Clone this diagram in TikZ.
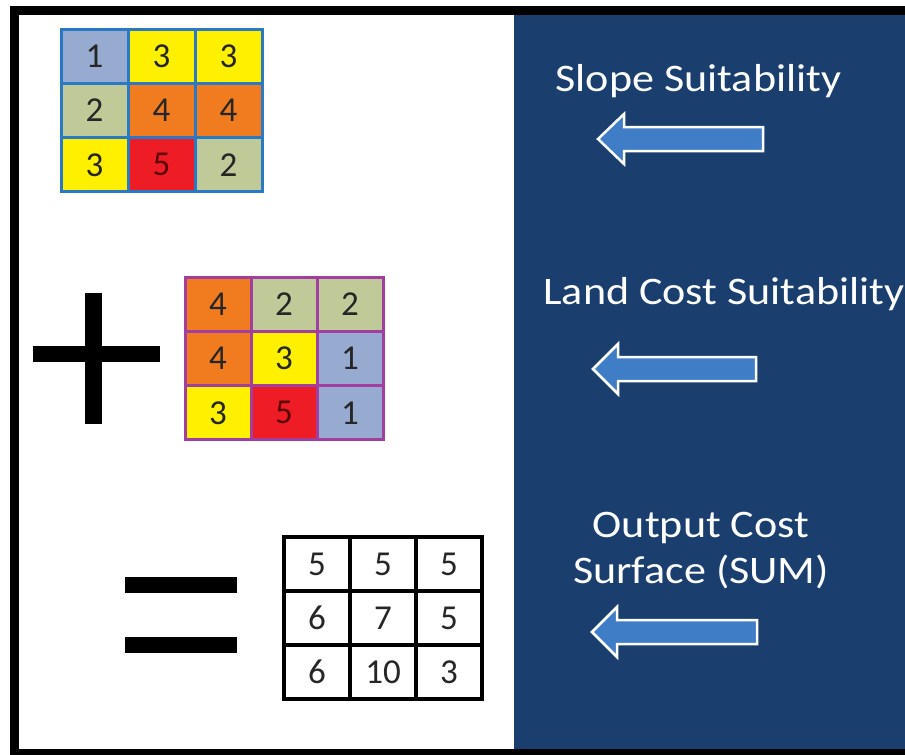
\documentclass[tikz,border=0pt]{standalone}
\usepackage{fontspec}
\setmainfont{Carlito}
\definecolor{navy}{HTML}{1A3F6F}
\definecolor{arrowblue}{HTML}{3F7DC6}
\definecolor{cslate}{HTML}{97ABD0}
\definecolor{cyellow}{HTML}{FFF000}
\definecolor{csage}{HTML}{BFCA98}
\definecolor{corange}{HTML}{F07C1F}
\definecolor{cred}{HTML}{EE1D25}
\definecolor{gblue}{HTML}{2A79C4}
\definecolor{gpurple}{HTML}{A33EA1}
\begin{document}
\begin{tikzpicture}[x=1pt,y=-1pt,
  cell/.style={rectangle, line width=3pt, inner sep=0pt, anchor=center,
    minimum width=66pt, minimum height=54pt, text=black!85,
    font=\fontsize{35}{35}\selectfont},
  ga/.style={cell, draw=gblue, minimum width=67pt, minimum height=54.3pt},
  gb/.style={cell, draw=gpurple, minimum height=54.3pt},
  gc/.style={cell, draw=black, line width=3.5pt, fill=white},
  redcell/.style={fill=cred, text=red!35!black},
  label/.style={text=white, anchor=base, align=center, inner sep=0pt,
    font=\fontsize{39}{46}\selectfont},
  blockarrow/.style={draw=white, line width=2.5pt, fill=arrowblue, line join=miter}
]
\useasboundingbox (0,0) rectangle (905,755);
% frame and panels
\fill[white] (0,0) rectangle (905,755);
\fill[black] (10,6) rectangle (905,755);
\fill[white] (19,15) rectangle (514,749);
\fill[navy] (514,15) rectangle (905,749);

% grid 1 (slope)
\node[ga, fill=cslate]  (a11) at (94.5,56.2) {1};
\node[ga, fill=cyellow] (a12) at (161.5,56.2) {3};
\node[ga, fill=cyellow] (a13) at (228.5,56.2) {3};
\node[ga, fill=csage]   (a21) at (94.5,110.5) {2};
\node[ga, fill=corange] (a22) at (161.5,110.5) {4};
\node[ga, fill=corange] (a23) at (228.5,110.5) {4};
\node[ga, fill=cyellow] (a31) at (94.5,164.8) {3};
\node[ga, redcell]      (a32) at (161.5,164.8) {5};
\node[ga, fill=csage]   (a33) at (228.5,164.8) {2};

% plus sign
\fill[black] (85,293) rectangle (102,424);
\fill[black] (33,346) rectangle (160,362);

% grid 2 (land cost)
\node[gb, fill=corange] (b11) at (218,304.2) {4};
\node[gb, fill=csage]   (b12) at (284,304.2) {2};
\node[gb, fill=csage]   (b13) at (350,304.2) {2};
\node[gb, fill=corange] (b21) at (218,358.5) {4};
\node[gb, fill=cyellow] (b22) at (284,358.5) {3};
\node[gb, fill=cslate]  (b23) at (350,358.5) {1};
\node[gb, fill=cyellow] (b31) at (218,412.8) {3};
\node[gb, redcell]      (b32) at (284,412.8) {5};
\node[gb, fill=cslate]  (b33) at (350,412.8) {1};

% equals sign
\fill[black] (125,577) rectangle (237,593);
\fill[black] (125,637) rectangle (237,653);

% grid 3 (output)
\node[gc] (c11) at (317,564) {5};
\node[gc] (c12) at (383,564) {5};
\node[gc] (c13) at (449,564) {5};
\node[gc] (c21) at (317,618) {6};
\node[gc] (c22) at (383,618) {7};
\node[gc] (c23) at (449,618) {5};
\node[gc] (c31) at (317,672) {6};
\node[gc] (c32) at (383,672) {10};
\node[gc] (c33) at (449,672) {3};

% labels
\node[label] (l1) at (698.5,91) {\scalebox{1.13}[1]{Slope Suitability}};
\node[label] (l2) at (724,304) {\scalebox{1.13}[1]{Land Cost Suitability}};
\node[label] (l3) at (701,583) {\scalebox{1.13}[1]{Output Cost}\\\scalebox{1.13}[1]{Surface (SUM)}};

% arrows
\begin{scope}[shift={(0,139)}]
\draw[blockarrow] (598,0) -- (624,-25) -- (624,-12) -- (763,-12) -- (763,12) -- (624,12) -- (624,25) -- cycle;
\end{scope}
\begin{scope}[shift={(0,369)}]
\draw[blockarrow] (593,0) -- (618,-25) -- (618,-12) -- (756,-12) -- (756,12) -- (618,12) -- (618,25) -- cycle;
\end{scope}
\begin{scope}[shift={(0,632)}]
\draw[blockarrow] (592,0) -- (617,-25) -- (617,-12) -- (757,-12) -- (757,12) -- (617,12) -- (617,25) -- cycle;
\end{scope}
\end{tikzpicture}
\end{document}
